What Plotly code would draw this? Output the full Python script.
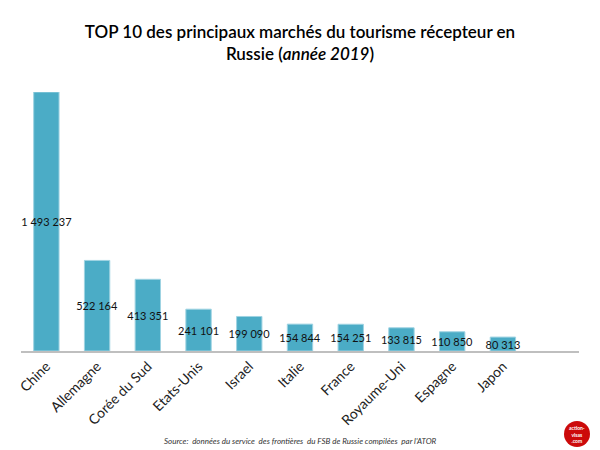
import plotly.graph_objects as go

pays = ["Chine", "Allemagne", "Corée du Sud", "Etats-Unis", "Israel", "Italie",
        "France", "Royaume-Uni", "Espagne", "Japon"]
touristes = [1493237, 522164, 413351, 241101, 199090, 154844, 154251, 133815, 110850, 80313]
etiquettes = ["1 493 237", "522 164", "413 351", "241 101", "199 090", "154 844",
              "154 251", "133 815", "110 850", "80 313"]

titre = "TOP 10 des principaux marchés du tourisme récepteur en<br>Russie (<i>année 2019</i>)"
source = "Source:  données du service  des frontières  du FSB de Russie compilées  par l'ATOR"

police = "Lato"

fig = go.Figure()
fig.add_trace(go.Bar(
    x=pays,
    y=touristes,
    text=etiquettes,
    textposition="inside",
    insidetextanchor="middle",
    textangle=0,
    constraintext="none",
    cliponaxis=False,
    textfont=dict(family=police, size=11, color="#111111"),
    marker=dict(color="#4BACC6", line=dict(color="#9FD3E2", width=1)),
    width=0.5,
    hoverinfo="skip",
))

# la page a une marge de 8px, d'ou 592x442 et les marges l/t reduites
fig.update_layout(
    width=592,
    height=442,
    autosize=False,
    margin=dict(l=13, r=21, t=84, b=99),
    paper_bgcolor="white",
    plot_bgcolor="white",
    showlegend=False,
    font=dict(family=police, color="#111111"),
    title=dict(text=titre, x=(300 - 8) / 592, xanchor="center", y=0.932, yanchor="middle",
               font=dict(family=police, size=17, color="#000000", weight=600)),
)
fig.update_xaxes(
    type="category",
    range=[-0.5, 10.5],
    tickangle=-45,
    ticks="",
    automargin=False,
    tickfont=dict(family=police, size=14, color="#222222"),
    showline=True,
    linecolor="#BFBFBF",
    linewidth=1.5,
    showgrid=False,
)
fig.update_yaxes(range=[0, max(touristes)], visible=False, showgrid=False)

fig.add_annotation(text="<i>" + source + "</i>", xref="paper", yref="paper",
                   x=(300 - 21) / 558, y=-90 / 259, xanchor="center", yanchor="middle",
                   showarrow=False, font=dict(family=police, size=8, color="#333333"))

# petit logo en bas a droite
fig.add_shape(type="circle", xref="paper", yref="paper",
              x0=(564 - 21) / 558, x1=(590 - 21) / 558, y0=-96 / 259, y1=-70 / 259,
              fillcolor="#CC0A0A", line=dict(width=0))
fig.add_annotation(text="action-<br>visas<br>.com", xref="paper", yref="paper",
                   x=(577 - 21) / 558, y=-83 / 259, xanchor="center", yanchor="middle",
                   showarrow=False, font=dict(family=police, size=5, color="white", weight=700))

fig.write_html("out.html")
